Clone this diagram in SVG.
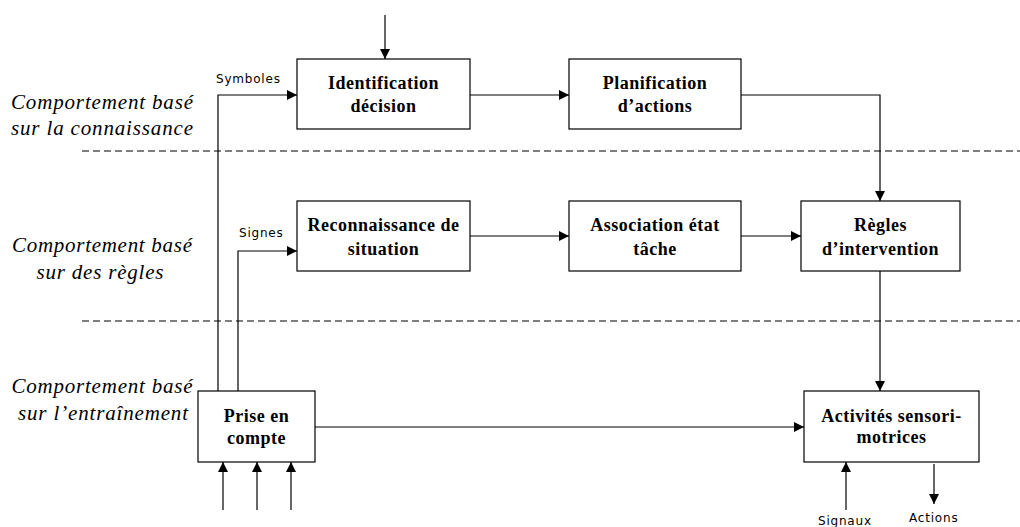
<svg xmlns="http://www.w3.org/2000/svg" width="1020" height="527" viewBox="0 0 1020 527">
<defs>
<marker id="ah" viewBox="0 0 10 10" refX="10" refY="5" markerWidth="10" markerHeight="10" markerUnits="userSpaceOnUse" orient="auto">
<path d="M0,0 L10,5 L0,10 z" fill="#000"/>
</marker>
<style>
.box{fill:#fff;stroke:#000;stroke-width:1.2}
.lbl{font-weight:bold;font-size:18px;letter-spacing:0.5px;text-anchor:middle}
.side{font-style:italic;font-size:21px;text-anchor:middle}
.sm{font-size:12px;letter-spacing:0.8px}
.c{fill:none;stroke:#000;stroke-width:1.2}
.arr{marker-end:url(#ah)}
.dash{stroke:#000;stroke-width:1.2;stroke-dasharray:7,4}
</style>
</defs>
<rect width="1020" height="527" fill="#fff"/>
<g id="separators">
<line class="dash" x1="82" y1="151" x2="1020" y2="151"/>
<line class="dash" x1="82" y1="321" x2="1020" y2="321"/>
</g>
<g id="side-labels" font-family="Liberation Serif">
<text class="side" x="102" y="109" textLength="182">Comportement basé</text>
<text class="side" x="102" y="135" textLength="182">sur la connaissance</text>
<text class="side" x="102" y="252" textLength="180">Comportement basé</text>
<text class="side" x="100" y="279" textLength="127">sur des règles</text>
<text class="side" x="102" y="393" textLength="181">Comportement basé</text>
<text class="side" x="103" y="420" textLength="170">sur l’entraînement</text>
</g>
<g id="connectors">
<path class="c arr" d="M385,15 V59"/>
<path class="c arr" d="M218,391 V95 H297"/>
<path class="c arr" d="M238,391 V251 H297"/>
<path class="c arr" d="M470,95 H569"/>
<path class="c arr" d="M741,95 H880 V201"/>
<path class="c arr" d="M470,236 H569"/>
<path class="c arr" d="M741,236 H801"/>
<path class="c arr" d="M880,271 V391"/>
<path class="c arr" d="M315,427 H804"/>
<path class="c arr" d="M223,510 V462"/>
<path class="c arr" d="M257,510 V462"/>
<path class="c arr" d="M291,510 V462"/>
<path class="c arr" d="M846,510 V462"/>
<path class="c arr" d="M934,464 V504"/>
<g font-family="DejaVu Sans">
<text class="sm" x="216" y="83">Symboles</text>
<text class="sm" x="239" y="237">Signes</text>
<text class="sm" x="818" y="525">Signaux</text>
<text class="sm" x="909" y="522">Actions</text>
</g>
</g>
<g font-family="Liberation Serif">
<g id="identification">
<rect class="box" x="297" y="59" width="173" height="70"/>
<text class="lbl" x="383.5" y="89">Identification</text>
<text class="lbl" x="383.5" y="112">décision</text>
</g>
<g id="planification">
<rect class="box" x="569" y="59" width="172" height="70"/>
<text class="lbl" x="655" y="89">Planification</text>
<text class="lbl" x="655" y="112">d’actions</text>
</g>
<g id="reconnaissance">
<rect class="box" x="297" y="201" width="173" height="70"/>
<text class="lbl" x="383.5" y="231">Reconnaissance de</text>
<text class="lbl" x="383.5" y="255">situation</text>
</g>
<g id="association">
<rect class="box" x="569" y="201" width="172" height="70"/>
<text class="lbl" x="655" y="231">Association état</text>
<text class="lbl" x="655" y="255">tâche</text>
</g>
<g id="regles">
<rect class="box" x="801" y="201" width="159" height="70"/>
<text class="lbl" x="880.5" y="231">Règles</text>
<text class="lbl" x="880.5" y="255">d’intervention</text>
</g>
<g id="prise">
<rect class="box" x="198" y="391" width="117" height="71"/>
<text class="lbl" x="256.5" y="422">Prise en</text>
<text class="lbl" x="256.5" y="444">compte</text>
</g>
<g id="activites">
<rect class="box" x="804" y="391" width="175" height="71"/>
<text class="lbl" x="891.5" y="422">Activités sensori-</text>
<text class="lbl" x="891.5" y="443">motrices</text>
</g>
</g>
</svg>
